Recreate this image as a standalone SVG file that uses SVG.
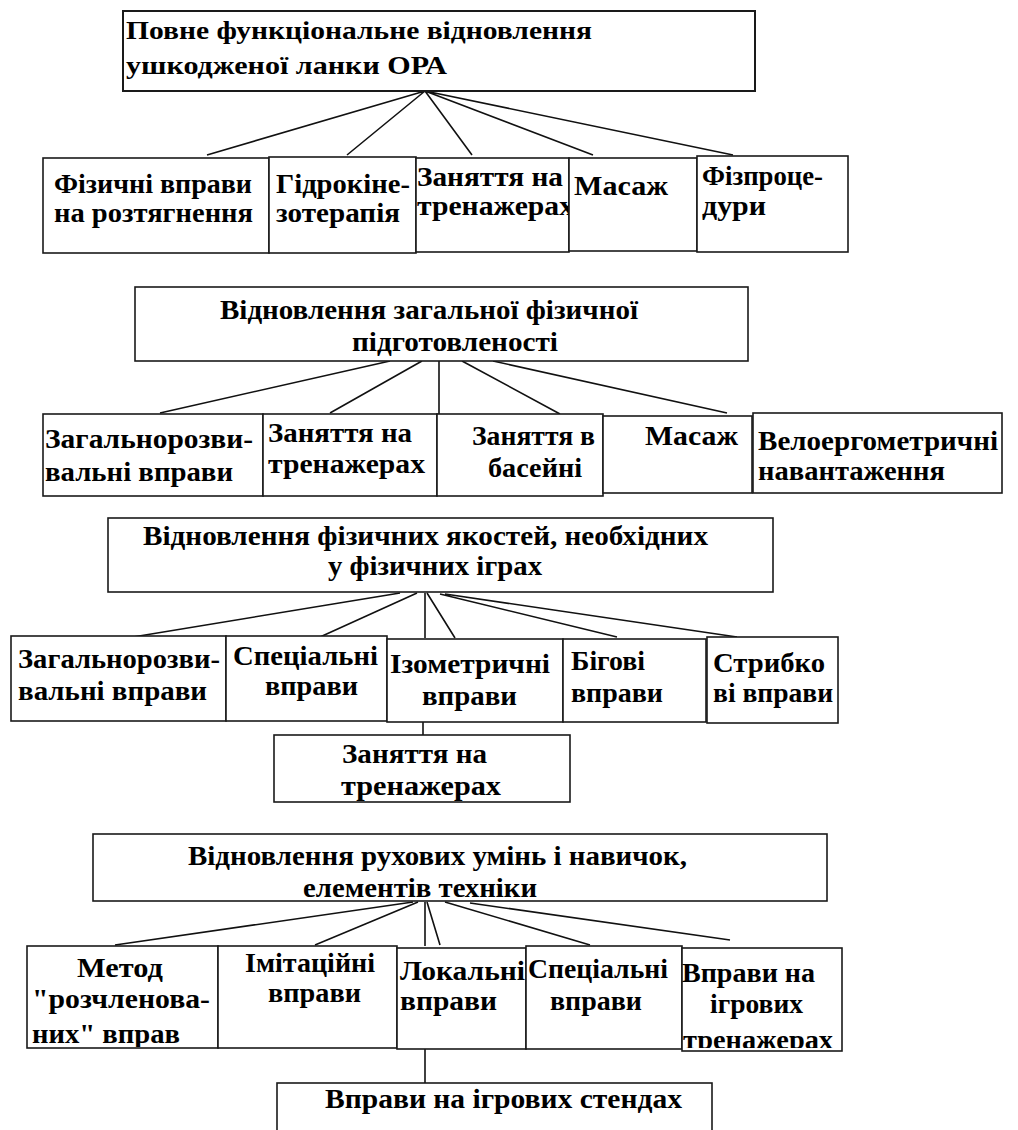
<svg xmlns="http://www.w3.org/2000/svg" width="1018" height="1130" viewBox="0 0 1018 1130">
<style>
.box{fill:#fff;stroke:#1a1a1a;stroke-width:1.6}
.t{font-family:"Liberation Serif","Times New Roman",serif;font-weight:bold;fill:#000;font-size:28px}
.h{font-size:27px}
.top{font-size:26px}
.c{stroke:#111;stroke-width:1.6;fill:none}
</style>
<defs>
<clipPath id="clipR1B3"><rect x="416" y="150" width="153" height="110"/></clipPath>
<clipPath id="clipR4B1"><rect x="20" y="940" width="200" height="107"/></clipPath>
<clipPath id="clipR4B5"><rect x="675" y="940" width="175" height="108"/></clipPath>
</defs>
<rect width="1018" height="1130" fill="#fff"/>

<g id="connectors">
<path class="c" d="M425 91 L207 155 M425 91 L347 155 M425 91 L472 155 M425 91 L593 155 M425 91 L733 155"/>
<path class="c" d="M390 361 L160 413 M422 361 L330 413 M439 361 L439 414 M462 361 L560 414 M493 361 L727 413"/>
<path class="c" d="M400 593 L133 637 M417 593 L320 637 M425 593 L425 638 M427 593 L455 638 M440 594 L617 637 M445 594 L737 637"/>
<path class="c" d="M423 722 L423 735"/>
<path class="c" d="M413 902 L115 945 M418 902 L315 945 M425 902 L425 946 M427 902 L440 945 M445 902 L590 945 M470 903 L730 940"/>
<path class="c" d="M425 1049 L425 1083"/>
<path class="c" d="M380 702 L389 702 M397 1043 L406 1043"/>
</g>

<g id="n-top">
<rect class="box" x="123" y="11" width="632" height="80" style="stroke-width:2"/>
<text class="t top" x="126" y="39" textLength="466" lengthAdjust="spacingAndGlyphs">Повне функціональне відновлення</text>
<text class="t top" x="126" y="74" textLength="321" lengthAdjust="spacingAndGlyphs">ушкодженої ланки ОРА</text>
</g>

<g id="n-r1-1">
<rect class="box" x="43" y="158" width="226" height="95"/>
<text class="t" x="54" y="193" textLength="198" lengthAdjust="spacingAndGlyphs">Фізичні вправи</text>
<text class="t" x="54" y="222" textLength="199" lengthAdjust="spacingAndGlyphs">на розтягнення</text>
</g>
<g id="n-r1-2">
<rect class="box" x="269" y="157" width="147" height="96"/>
<text class="t" x="276" y="193" textLength="134" lengthAdjust="spacingAndGlyphs">Гідрокіне-</text>
<text class="t" x="276" y="222" textLength="124" lengthAdjust="spacingAndGlyphs">зотерапія</text>
</g>
<g id="n-r1-3">
<rect class="box" x="416" y="158" width="153" height="94"/>
<text class="t" x="417" y="186" textLength="146" lengthAdjust="spacingAndGlyphs">Заняття на</text>
<text class="t" x="417" y="215" textLength="157" lengthAdjust="spacingAndGlyphs" clip-path="url(#clipR1B3)">тренажерах</text>
</g>
<g id="n-r1-4">
<rect class="box" x="569" y="158" width="128" height="93"/>
<text class="t" x="574" y="195" textLength="94" lengthAdjust="spacingAndGlyphs">Масаж</text>
</g>
<g id="n-r1-5">
<rect class="box" x="697" y="156" width="151" height="96"/>
<text class="t" x="702" y="185" textLength="121" lengthAdjust="spacingAndGlyphs">Фізпроце-</text>
<text class="t" x="702" y="215" textLength="64" lengthAdjust="spacingAndGlyphs">дури</text>
</g>

<g id="n-s2">
<rect class="box" x="135" y="287" width="613" height="74"/>
<text class="t h" x="220" y="319" textLength="418" lengthAdjust="spacingAndGlyphs">Відновлення загальної фізичної</text>
<text class="t h" x="352" y="351" textLength="206" lengthAdjust="spacingAndGlyphs">підготовленості</text>
</g>

<g id="n-r2-1">
<rect class="box" x="43" y="414" width="220" height="82"/>
<text class="t" x="45" y="448" textLength="208" lengthAdjust="spacingAndGlyphs">Загальнорозви-</text>
<text class="t" x="45" y="481" textLength="188" lengthAdjust="spacingAndGlyphs">вальні вправи</text>
</g>
<g id="n-r2-2">
<rect class="box" x="263" y="414" width="174" height="82"/>
<text class="t" x="268" y="442" textLength="144" lengthAdjust="spacingAndGlyphs">Заняття на</text>
<text class="t" x="268" y="473" textLength="157" lengthAdjust="spacingAndGlyphs">тренажерах</text>
</g>
<g id="n-r2-3">
<rect class="box" x="437" y="414" width="166" height="82"/>
<text class="t" x="472" y="445" textLength="123" lengthAdjust="spacingAndGlyphs">Заняття в</text>
<text class="t" x="488" y="477" textLength="94" lengthAdjust="spacingAndGlyphs">басейні</text>
</g>
<g id="n-r2-4">
<rect class="box" x="603" y="416" width="149" height="77"/>
<text class="t" x="645" y="445" textLength="93" lengthAdjust="spacingAndGlyphs">Масаж</text>
</g>
<g id="n-r2-5">
<rect class="box" x="753" y="413" width="249" height="80"/>
<text class="t" x="758" y="450" textLength="240" lengthAdjust="spacingAndGlyphs">Велоергометричні</text>
<text class="t" x="758" y="480" textLength="187" lengthAdjust="spacingAndGlyphs">навантаження</text>
</g>

<g id="n-s3">
<rect class="box" x="108" y="518" width="665" height="74"/>
<text class="t h" x="143" y="545" textLength="565" lengthAdjust="spacingAndGlyphs">Відновлення фізичних якостей, необхідних</text>
<text class="t h" x="328" y="575" textLength="214" lengthAdjust="spacingAndGlyphs">у фізичних іграх</text>
</g>

<g id="n-r3-1">
<rect class="box" x="11" y="636" width="215" height="85"/>
<text class="t" x="18" y="668" textLength="202" lengthAdjust="spacingAndGlyphs">Загальнорозви-</text>
<text class="t" x="18" y="700" textLength="189" lengthAdjust="spacingAndGlyphs">вальні вправи</text>
</g>
<g id="n-r3-2">
<rect class="box" x="226" y="636" width="161" height="85"/>
<text class="t" x="233" y="665" textLength="145" lengthAdjust="spacingAndGlyphs">Спеціальні</text>
<text class="t" x="265" y="695" textLength="93" lengthAdjust="spacingAndGlyphs">вправи</text>
</g>
<g id="n-r3-3">
<rect class="box" x="387" y="639" width="176" height="83"/>
<text class="t" x="390" y="673" textLength="160" lengthAdjust="spacingAndGlyphs">Ізометричні</text>
<text class="t" x="422" y="705" textLength="95" lengthAdjust="spacingAndGlyphs">вправи</text>
</g>
<g id="n-r3-4">
<rect class="box" x="563" y="639" width="143" height="83"/>
<text class="t" x="571" y="670" textLength="74" lengthAdjust="spacingAndGlyphs">Бігові</text>
<text class="t" x="571" y="702" textLength="92" lengthAdjust="spacingAndGlyphs">вправи</text>
</g>
<g id="n-r3-5">
<rect class="box" x="707" y="637" width="131" height="86"/>
<text class="t" x="713" y="672" textLength="112" lengthAdjust="spacingAndGlyphs">Стрибко</text>
<text class="t" x="713" y="702" textLength="120" lengthAdjust="spacingAndGlyphs">ві вправи</text>
</g>
<g id="n-r3-6">
<rect class="box" x="274" y="735" width="296" height="67"/>
<text class="t" x="342" y="763" textLength="145" lengthAdjust="spacingAndGlyphs">Заняття на</text>
<text class="t" x="341" y="795" textLength="160" lengthAdjust="spacingAndGlyphs">тренажерах</text>
</g>

<g id="n-s4">
<rect class="box" x="93" y="834" width="734" height="67"/>
<text class="t h" x="188" y="865" textLength="499" lengthAdjust="spacingAndGlyphs">Відновлення рухових умінь і навичок,</text>
<text class="t h" x="303" y="897" textLength="234" lengthAdjust="spacingAndGlyphs">елементів техніки</text>
</g>

<g id="n-r4-1">
<rect class="box" x="27" y="946" width="191" height="102"/>
<text class="t" x="77" y="977" textLength="86" lengthAdjust="spacingAndGlyphs">Метод</text>
<text class="t" x="32" y="1008" textLength="178" lengthAdjust="spacingAndGlyphs">"розчленова-</text>
<text class="t" x="32" y="1043" textLength="148" lengthAdjust="spacingAndGlyphs" clip-path="url(#clipR4B1)">них" вправ</text>
</g>
<g id="n-r4-2">
<rect class="box" x="218" y="946" width="179" height="102"/>
<text class="t" x="245" y="972" textLength="130" lengthAdjust="spacingAndGlyphs">Імітаційні</text>
<text class="t" x="268" y="1002" textLength="93" lengthAdjust="spacingAndGlyphs">вправи</text>
</g>
<g id="n-r4-3">
<rect class="box" x="397" y="948" width="129" height="101"/>
<text class="t" x="400" y="980" textLength="125" lengthAdjust="spacingAndGlyphs">Локальні</text>
<text class="t" x="400" y="1010" textLength="97" lengthAdjust="spacingAndGlyphs">вправи</text>
</g>
<g id="n-r4-4">
<rect class="box" x="526" y="946" width="156" height="103"/>
<text class="t" x="528" y="978" textLength="140" lengthAdjust="spacingAndGlyphs">Спеціальні</text>
<text class="t" x="550" y="1010" textLength="92" lengthAdjust="spacingAndGlyphs">вправи</text>
</g>
<g id="n-r4-5">
<rect class="box" x="682" y="948" width="160" height="103"/>
<text class="t" x="682" y="982" textLength="133" lengthAdjust="spacingAndGlyphs">Вправи на</text>
<text class="t" x="710" y="1013" textLength="93" lengthAdjust="spacingAndGlyphs">ігрових</text>
<text class="t" x="683" y="1049" textLength="150" lengthAdjust="spacingAndGlyphs" clip-path="url(#clipR4B5)">тренажерах</text>
</g>
<g id="n-r4-6">
<rect class="box" x="277" y="1083" width="435" height="60"/>
<text class="t" x="325" y="1108" textLength="357" lengthAdjust="spacingAndGlyphs">Вправи на ігрових стендах</text>
</g>
</svg>
